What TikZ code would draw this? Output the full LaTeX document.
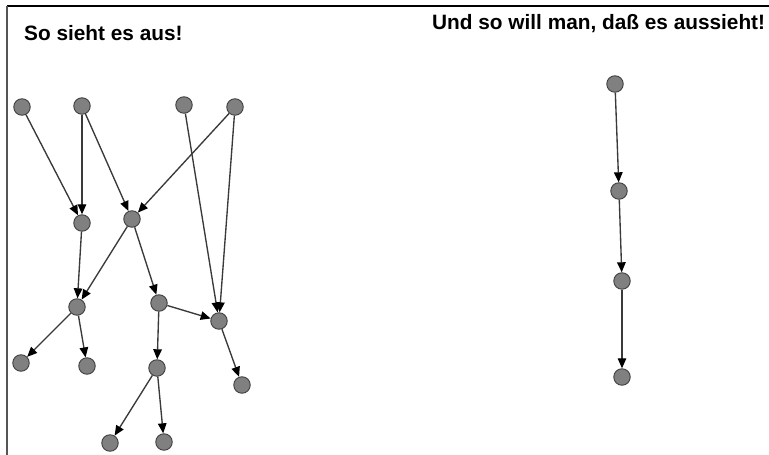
\documentclass[tikz,border=0pt]{standalone}
\usepackage{fontspec}
\setmainfont{Liberation Sans}
\usetikzlibrary{arrows.meta}
\definecolor{nodefill}{HTML}{808080}
\definecolor{nodeline}{HTML}{404040}
\definecolor{edgecol}{HTML}{3a3a3a}
\definecolor{frameleft}{HTML}{555555}
\tikzset{
  vtx/.style={circle, fill=nodefill, draw=nodeline, line width=0.9pt, minimum size=16.5pt, inner sep=0pt},
  edg/.style={draw=edgecol, line width=1.35pt, -{Triangle[length=10pt,width=8.5pt,fill=black,color=black]}},
  ttl/.style={font=\bfseries\fontsize{20.8pt}{24pt}\selectfont, anchor=base west, inner sep=0pt}
}
\begin{document}
\begin{tikzpicture}[x=1pt,y=-1pt]
\useasboundingbox (0,0) rectangle (769,455);
\fill[white] (0,0) rectangle (769,455);
\draw[black, line width=1.6pt] (7,6) -- (769,6);
\draw[frameleft, line width=2.2pt] (7,6) -- (7,455);

\node[ttl] (t1) at (24,40) {So sieht es aus!};
\node[ttl] (t2) at (432,30) {Und so will man, daß es aussieht!};

\node[vtx] (n1) at (22,107) {};
\node[vtx] (n2) at (82,106) {};
\node[vtx] (n3) at (184,105) {};
\node[vtx] (n4) at (235,107) {};
\node[vtx] (n5) at (82,223) {};
\node[vtx] (n6) at (132,219) {};
\node[vtx] (n7) at (77,307) {};
\node[vtx] (n8) at (159,303) {};
\node[vtx] (n9) at (219,321) {};
\node[vtx] (n10) at (21,363) {};
\node[vtx] (n11) at (87,366) {};
\node[vtx] (n12) at (157,368) {};
\node[vtx] (n13) at (242,385) {};
\node[vtx] (n14) at (110,443) {};
\node[vtx] (n15) at (164,442) {};

\draw[edg] (n1) -- (n5);
\draw[edg] (n2) -- (n5);
\draw[edg] (n2) -- (n6);
\draw[edg] (n4) -- (n6);
\draw[edg] (n3) -- (n9);
\draw[edg] (n4) -- (n9);
\draw[edg] (n5) -- (n7);
\draw[edg] (n6) -- (n7);
\draw[edg] (n6) -- (n8);
\draw[edg] (n8) -- (n9);
\draw[edg] (n8) -- (n12);
\draw[edg] (n7) -- (n10);
\draw[edg] (n7) -- (n11);
\draw[edg] (n9) -- (n13);
\draw[edg] (n12) -- (n14);
\draw[edg] (n12) -- (n15);

\node[vtx] (r1) at (615,84) {};
\node[vtx] (r2) at (619,191) {};
\node[vtx] (r3) at (622,281) {};
\node[vtx] (r4) at (622,377) {};
\draw[edg] (r1) -- (r2);
\draw[edg] (r2) -- (r3);
\draw[edg] (r3) -- (r4);
\end{tikzpicture}
\end{document}
